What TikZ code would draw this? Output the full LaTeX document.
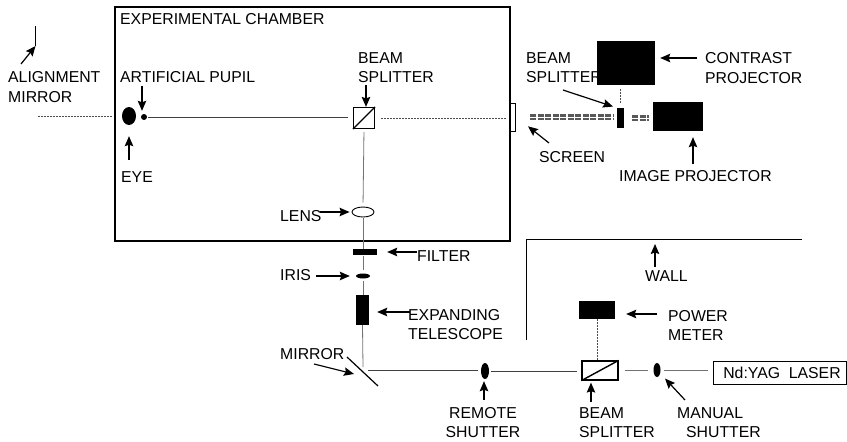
\documentclass[tikz,border=0pt]{standalone}
\usepackage{fontspec}
\setmainfont{Liberation Sans}
\usetikzlibrary{arrows.meta,calc,shapes.geometric}
\tikzset{
  lbl/.style={inner sep=0pt,anchor=west,align=left,font=\fontsize{15.8}{19.2}\selectfont},
  blackbox/.style={fill=black,inner sep=0pt},
  splitter/.style={draw=black,line width=1.2pt,inner sep=0pt},
  optic/.style={draw=black,line width=0.9pt,inner sep=0pt},
  note/.style={-{Stealth[length=10pt,width=8.5pt,inset=1.5pt]},line width=1.2pt},
  beam/.style={line width=0.7pt,draw=black!75},
  faintbeam/.style={line width=0.8pt,draw=black!55},
  dotbeam/.style={line width=0.7pt,draw=black!70,dash pattern=on 2pt off 1pt},
  dblbeam/.style={draw=black!65,line width=2.6pt,double=white,double distance=0.9pt,dash pattern=on 6pt off 1.5pt},
}

\begin{document}
\begin{tikzpicture}[x=1pt,y=-1pt]
\useasboundingbox (0,0) rectangle (847,442);

% chamber and wall
\node[draw,line width=1.1pt,inner sep=0pt,minimum width=395pt,minimum height=234pt] (chamber) at (312.5,124) {};
\node[draw,line width=1pt,inner sep=0pt,minimum width=5.5pt,minimum height=28pt] (screen) at (513,117) {};
\coordinate (wallA) at (526,340);
\coordinate (wallB) at (526,239);
\coordinate (wallC) at (802,239);
\draw[line width=1pt] (wallA) -- (wallB) -- (wallC);

% parts
\node[blackbox,ellipse,minimum width=14pt,minimum height=18pt] (eye) at (129,116) {};
\node[blackbox,circle,minimum size=6pt] (pupil) at (144,117) {};
\node[splitter,minimum width=21pt,minimum height=21pt] (bsa) at (364,118) {};
\node[optic,ellipse,minimum width=22pt,minimum height=10pt] (lens) at (363,212) {};
\node[blackbox,minimum width=24pt,minimum height=6pt] (filter) at (365,252) {};
\node[blackbox,ellipse,minimum width=14pt,minimum height=5pt] (iris) at (363,276) {};
\node[blackbox,minimum width=13pt,minimum height=30pt] (telescope) at (362.5,310) {};
\node[blackbox,ellipse,minimum width=8pt,minimum height=16pt] (rshutter) at (485,371) {};
\node[splitter,minimum width=36pt,minimum height=19pt] (bsb) at (600,370.5) {};
\node[blackbox,ellipse,minimum width=7pt,minimum height=14pt] (mshutter) at (657,370) {};
\node[blackbox,minimum width=36pt,minimum height=18pt] (meter) at (597,310) {};
\node[draw,line width=0.9pt,inner sep=0pt,minimum width=133pt,minimum height=23pt,font=\fontsize{15.8}{19}\selectfont] (laser) at (779.5,372.5) {\hspace*{5pt}Nd:YAG\ \ LASER};
\node[blackbox,minimum width=58pt,minimum height=44pt] (contrast) at (626,63) {};
\node[blackbox,minimum width=50.5pt,minimum height=29pt] (image) at (678,116.5) {};
\node[blackbox,minimum width=7pt,minimum height=20pt] (bsc) at (620.5,118) {};

% mirrors
\coordinate (almA) at (35.5,26);
\coordinate (almB) at (35.5,46);
\coordinate (mirA) at (347,357);
\coordinate (mirB) at (378,386);
\coordinate (mirHit) at (363,367);
\coordinate (mirOut) at (368,370.5);
\draw[line width=1.1pt] (almA) -- (almB);
\draw[line width=1.2pt] (mirA) -- (mirB);
\draw[splitter,line width=1.4pt] (bsa.south west) -- (bsa.north east);
\draw[splitter,line width=1.4pt] (bsb.south west) -- (bsb.north east);

% beams
\coordinate (farLeft) at (38,116);
\draw[dotbeam,shorten >=10pt] (farLeft) -- (farLeft -| eye.west);
\draw[beam,shorten >=5pt,shorten <=1pt] (pupil.east) -- (pupil.east -| bsa.west);
\draw[dotbeam,shorten <=6pt,shorten >=3pt] (bsa.east) -- (bsa.east -| screen.west);
\draw[faintbeam,shorten <=3pt,shorten >=4pt] (bsa.south) -- (lens.north);
\draw[faintbeam,shorten <=1pt] (lens.south) -- (lens.south |- filter.north);
\draw[faintbeam,shorten <=1pt,shorten >=3pt] (filter.south -| iris) -- (iris.north);
\draw[faintbeam,shorten <=2pt] (iris.south) -- (iris.south |- telescope.north);
\draw[faintbeam] (telescope.south) -- (mirHit);
\draw[beam,shorten >=3pt] (mirOut) -- (mirOut -| rshutter.west);
\draw[beam,shorten <=2pt,shorten >=4pt] (rshutter.east) -- (rshutter.east -| bsb.west);
\draw[faintbeam,shorten <=6pt,shorten >=5pt] (bsb.east) -- (bsb.east -| mshutter.west);
\draw[faintbeam,shorten <=3pt,shorten >=5pt] (mshutter.east) -- (mshutter.east -| laser.west);
\draw[dotbeam] (meter.south) -- (meter.south |- bsb.north);
\coordinate (dblStart) at (530,117);
\draw[dblbeam,shorten >=3pt] (dblStart) -- (dblStart -| bsc.west);
\draw[dblbeam,shorten <=8pt,shorten >=4pt] (bsc.east) -- (bsc.east -| image.west);
\draw[dotbeam,shorten <=4pt,shorten >=5pt] (contrast.south -| bsc) -- (bsc.north);

% labels
\node[lbl] (lblChamber) at (120,19) {EXPERIMENTAL CHAMBER};
\node[lbl] (lblAlign) at (8,87) {ALIGNMENT\\MIRROR};
\node[lbl] (lblPupil) at (120,77) {ARTIFICIAL PUPIL};
\node[lbl] (lblBsa) at (358,68) {BEAM\\SPLITTER};
\node[lbl] (lblEye) at (121,177) {EYE};
\node[lbl] (lblLens) at (280,216) {LENS};
\node[lbl] (lblFilter) at (417,256) {FILTER};
\node[lbl] (lblIris) at (280,275) {IRIS};
\node[lbl] (lblTele) at (408,324.5) {EXPANDING\\TELESCOPE};
\node[lbl] (lblMirror) at (280,354) {MIRROR};
\node[lbl,align=center,anchor=center] (lblRemote) at (483,422.5) {REMOTE\\SHUTTER};
\node[lbl] (lblBsb) at (579,422.5) {BEAM\\SPLITTER};
\node[lbl] (lblManual) at (677,422.5) {MANUAL\\\hspace*{9pt}SHUTTER};
\node[lbl] (lblMeter) at (668,325.5) {POWER\\METER};
\node[lbl] (lblWall) at (645,276) {WALL};
\node[lbl] (lblContrast) at (705,68) {CONTRAST\\PROJECTOR};
\node[lbl] (lblBsc) at (526,68) {BEAM\\SPLITTER};
\node[lbl] (lblScreen) at (539,157) {SCREEN};
\node[lbl] (lblImage) at (619,176) {IMAGE PROJECTOR};

% pointers
\coordinate (ptAlign) at (21,64);
\coordinate (ptPupil) at (142,86);
\coordinate (ptBsa) at (366,85);
\coordinate (ptEye) at (129,160);
\coordinate (ptLens) at (320,212);
\coordinate (ptFilter) at (417,252);
\coordinate (ptIris) at (316,276);
\coordinate (ptTele) at (410,312);
\coordinate (ptMirror) at (314,364);
\coordinate (ptMirrorTip) at (354,374);
\coordinate (ptRemote) at (484,400);
\coordinate (ptBsb) at (591,402);
\coordinate (ptManual) at (685,400);
\coordinate (ptMeter) at (657,314);
\coordinate (ptWall) at (655,267);
\coordinate (ptContrast) at (697,58);
\coordinate (ptBsc) at (563,90);
\coordinate (ptScreen) at (549,143);
\coordinate (ptImage) at (693,164);

\draw[note] (ptAlign) -- (almB);
\draw[note,shorten >=3pt] (ptPupil) -- (ptPupil |- pupil.north);
\draw[note] (ptBsa) -- (ptBsa |- bsa.north);
\draw[note,shorten >=11pt] (ptEye) -- (ptEye |- eye.south);
\draw[note,shorten >=2pt] (ptLens) -- (ptLens -| lens.west);
\draw[note,shorten >=10pt] (ptFilter) -- (ptFilter -| filter.east);
\draw[note,shorten >=6pt] (ptIris) -- (ptIris -| iris.west);
\draw[note,shorten >=8pt] (ptTele) -- (ptTele -| telescope.east);
\draw[note] (ptMirror) -- (ptMirrorTip);
\draw[note,shorten >=2pt] (ptRemote) -- (ptRemote |- rshutter.south);
\draw[note,shorten >=2pt] (ptBsb) -- (ptBsb |- bsb.south);
\draw[note,shorten >=7pt] (ptManual) -- (mshutter);
\draw[note,shorten >=11pt] (ptMeter) -- (ptMeter -| meter.east);
\draw[note,shorten >=5pt] (ptWall) -- (ptWall |- wallC);
\draw[note,shorten >=5pt] (ptContrast) -- (ptContrast -| contrast.east);
\draw[note,shorten >=4pt] (ptBsc) -- (bsc.north west);
\draw[note,shorten >=15pt] (ptScreen) -- (screen.east);
\draw[note,shorten >=6pt] (ptImage) -- (ptImage |- image.south);

\end{tikzpicture}
\end{document}
